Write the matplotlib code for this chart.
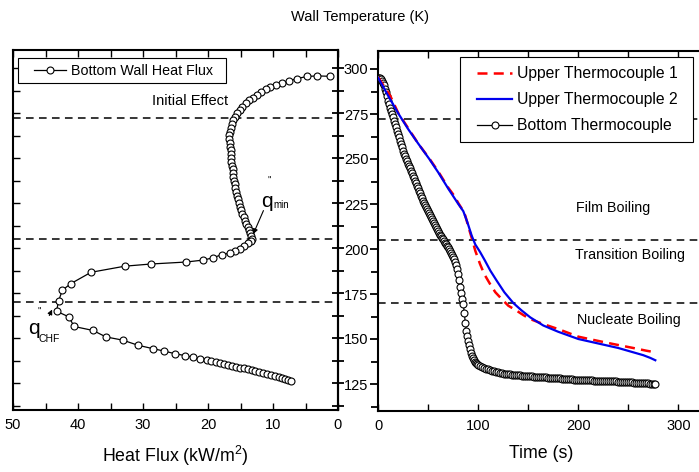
import matplotlib
matplotlib.use("Agg")
import matplotlib.pyplot as plt
from matplotlib.patches import Rectangle
from matplotlib.ticker import MultipleLocator

plt.rcParams['font.family'] = ['Liberation Sans', 'DejaVu Sans']
plt.rcParams['mathtext.fontset'] = 'custom'
plt.rcParams['mathtext.rm'] = 'Liberation Sans'

# left panel: bottom wall heat flux (kW/m2) against wall temperature (K)
flux_q = [1.3, 3.2, 4.8, 6.3, 7.6, 8.6, 9.5, 10.4, 11.1, 11.8,
          12.5, 13.1, 13.7, 14.2, 14.7, 15.1, 15.5, 15.8, 16.1, 16.3,
          16.5, 16.6, 16.7, 16.7, 16.6, 16.6, 16.5, 16.5, 16.4, 16.4,
          16.3, 16.2, 16.1, 16.1, 16.0, 15.9, 15.8, 15.7, 15.6, 15.4,
          15.3, 15.1, 14.9, 14.7, 14.5, 14.3, 14.1, 13.9, 13.7, 13.5,
          13.4, 13.3, 13.4, 13.8, 14.4, 15.1, 15.8, 16.6, 17.9, 19.2,
          20.7, 23.4, 28.8, 32.8, 38.0, 41.1, 42.4, 43.0, 43.3, 41.4,
          40.6, 37.7, 35.7, 33.1, 30.8, 28.5, 26.7, 25.1, 23.5, 22.3,
          21.2, 20.2, 19.5, 18.8, 18.1, 17.5, 16.9, 16.3, 15.7, 15.1,
          14.5, 13.9, 13.3, 12.7, 12.1, 11.5, 10.9, 10.3, 9.7, 9.1,
          8.6, 8.1, 7.7, 7.3]
flux_T = [295.4, 295.6, 295.3, 294.1, 292.8, 291.8, 290.7, 289.5, 288.2, 286.8,
          285.2, 283.6, 282.0, 280.3, 278.5, 276.7, 274.8, 272.9, 270.9, 268.9,
          266.8, 264.7, 262.6, 260.5, 258.4, 256.3, 254.2, 252.1, 250.0, 247.9,
          245.8, 243.7, 241.6, 239.5, 237.4, 235.3, 233.2, 231.1, 229.0, 227.0,
          225.0, 223.0, 221.0, 219.0, 217.1, 215.2, 213.4, 211.6, 209.9, 208.2,
          206.6, 205.2, 203.9, 202.8, 201.2, 199.4, 198.1, 197.2, 196.3, 194.6,
          193.3, 192.2, 191.1, 189.9, 186.5, 180.2, 176.6, 170.5, 164.9, 161.7,
          156.4, 154.2, 150.6, 148.8, 146.0, 144.1, 142.7, 141.3, 140.2, 139.3,
          138.5, 137.8, 137.2, 136.7, 136.1, 135.6, 135.1, 134.6, 134.1, 133.6,
          133.1, 132.6, 132.1, 131.6, 131.1, 130.6, 130.0, 129.4, 128.8, 128.2,
          127.6, 127.0, 126.4, 125.9]

# right panel: bottom thermocouple, sampled every 1 s up to 100 s, then every 2 s
bottom_t = list(range(0, 101)) + list(range(102, 277, 2)) + [277]
bottom_T = [295.0, 295.0, 294.8, 294.3, 293.5, 292.4, 291.0, 289.1, 287.0, 284.8,
            282.5, 280.4, 278.5, 276.7, 275.0, 273.1, 271.3, 269.4, 267.6, 265.7,
            263.9, 262.0, 260.2, 258.3, 256.5, 254.7, 253.0, 251.4, 250.0, 248.7,
            247.5, 246.2, 244.9, 243.5, 242.1, 240.7, 239.3, 237.9, 236.5, 235.1,
            233.8, 232.4, 231.0, 229.6, 228.2, 226.9, 225.6, 224.4, 223.2, 222.0,
            220.9, 219.8, 218.8, 217.8, 216.9, 215.8, 214.7, 213.5, 212.4, 211.3,
            210.2, 209.1, 208.0, 207.1, 206.2, 205.3, 204.4, 203.5, 202.6, 201.8,
            200.9, 200.0, 199.0, 198.0, 196.9, 195.8, 194.5, 193.0, 191.2, 188.8,
            186.1, 182.8, 178.8, 175.8, 172.5, 169.4, 164.5, 159.0, 154.6, 151.6,
            149.1, 146.6, 144.3, 142.4, 140.8, 139.5, 138.4, 137.5, 136.8, 136.1,
            135.5,
            135.0, 134.5, 134.0, 133.5, 133.1, 132.7, 132.3, 132.0, 131.7, 131.4,
            131.2, 131.0, 130.8, 130.7, 130.5, 130.4, 130.2, 130.1, 130.0, 129.9,
            129.8, 129.7, 129.6, 129.5, 129.4, 129.3, 129.2, 129.1, 129.0, 129.0,
            128.9, 128.8, 128.7, 128.7, 128.6, 128.6, 128.5, 128.4, 128.3, 128.2,
            128.1, 128.0, 128.0, 127.9, 127.8, 127.7, 127.6, 127.5, 127.4, 127.3,
            127.3, 127.2, 127.2, 127.1, 127.1, 127.0, 127.0, 126.9, 126.9, 126.8,
            126.8, 126.7, 126.7, 126.6, 126.6, 126.5, 126.5, 126.4, 126.4, 126.3,
            126.3, 126.2, 126.1, 126.0, 126.0, 125.9, 125.9, 125.8, 125.7, 125.6,
            125.6, 125.5, 125.4, 125.3, 125.3, 125.2, 125.2, 125.1,
            125.0]

# upper thermocouples
tc1_t = [0, 5, 8, 12, 20, 30, 40, 51, 60, 70, 76, 80, 84, 87, 90, 94, 97, 101.7, 106,
         111.7, 117, 123.4, 130, 138.4, 145, 151.7, 165, 180, 200, 215, 235, 255, 268, 277]
tc1_T = [295.5, 291.0, 288.5, 285.0, 275.5, 267.0, 258.5, 250.3, 243.0, 234.0, 229.5,
         225.5, 222.0, 218.5, 212.5, 205.0, 199.0, 191.7, 186.0, 180.6, 176.0, 172.2,
         168.5, 165.7, 163.3, 161.1, 158.3, 155.5, 151.3, 149.5, 147.2, 145.0, 143.5, 142.6]
tc2_t = [0, 5, 10, 20, 30, 40, 51, 60, 70, 80, 85, 89, 93.4, 97, 101.7, 106.7, 112,
         118.4, 126, 135, 143, 152, 165, 180, 200, 220, 240, 255, 265, 272, 277]
tc2_T = [295.0, 290.0, 285.0, 275.3, 266.5, 258.5, 250.0, 242.5, 233.5, 225.0, 221.0,
         215.0, 207.4, 202.5, 198.4, 193.5, 188.0, 182.4, 176.0, 170.0, 166.0, 162.0,
         157.5, 154.0, 150.0, 147.5, 145.0, 142.6, 141.0, 139.5, 138.2]

# boiling regime boundaries (K)
regime_T = [272, 205, 170]

fig = plt.figure(figsize=(6.99, 4.72), dpi=100)
axL = fig.add_axes([13 / 699, 62 / 472, 325 / 699, 360 / 472])
axR = fig.add_axes([378.3 / 699, 61 / 472, 325 / 699, 360 / 472])

dash = (0, (5, 3.5))
for ax in (axL, axR):
    for y in regime_T:
        ax.axhline(y, color='k', ls=dash, lw=1.1, zorder=1)
    for s in ax.spines.values():
        s.set_linewidth(1.5)
    ax.set_ylim(110, 310)
    ax.yaxis.set_major_locator(MultipleLocator(25))
    ax.yaxis.set_minor_locator(MultipleLocator(12.5))


def legend_box(ax, x0, y0, x1, y1):
    # plain square frame behind a frameless legend
    ax.add_patch(Rectangle((x0, y0), x1 - x0, y1 - y0, transform=ax.transAxes,
                           facecolor='white', edgecolor='k', lw=0.8, zorder=8))


# ---- left panel
axL.plot(flux_q, flux_T, '-o', color='k', lw=0.9, ms=5, mfc='white', mew=0.8,
         label='Bottom Wall Heat Flux', zorder=3)
axL.set_xlim(50, 0)
axL.xaxis.set_major_locator(MultipleLocator(10))
axL.xaxis.set_minor_locator(MultipleLocator(5))
axL.tick_params(axis='x', which='both', direction='in', top=True, bottom=True,
                length=5, width=1, labelsize=10.5, pad=6)
axL.tick_params(axis='y', which='both', direction='in', left=True, right=False,
                labelleft=False, length=5, width=1)
sec = axL.secondary_yaxis('right')
sec.yaxis.set_major_locator(MultipleLocator(25))
sec.yaxis.set_minor_locator(MultipleLocator(12.5))
sec.tick_params(which='both', direction='inout', length=9, width=1.3, labelright=False)
sec.spines['right'].set_linewidth(1.5)

axL.set_xlabel(r'Heat Flux (kW/m$^\mathregular{2}$)', fontsize=12.8)
axL.xaxis.set_label_coords(0.5, -0.095)
legend_box(axL, 0.0154, 0.908, 0.655, 0.978)
legL = axL.legend(loc='center left', bbox_to_anchor=(0.066, 0.943), borderaxespad=0,
                  borderpad=0, numpoints=1, handlelength=2.2, handletextpad=0.35,
                  fontsize=10.3, frameon=False)
legL.set_zorder(9)

axL.text(16.9, 281.8, 'Initial Effect', ha='right', va='center', fontsize=10.5)

axL.text(11.0, 225.9, 'q', ha='center', va='center', fontsize=15)
axL.text(10.6, 237.5, '"', ha='center', va='center', fontsize=7)
axL.text(8.7, 224.0, 'min', ha='center', va='center', fontsize=7)
axL.annotate('', xy=(13.2, 206.4), xytext=(11.3, 222.2),
             arrowprops=dict(arrowstyle='-|>', color='k', lw=0.8, mutation_scale=7))

axL.text(46.8, 155.5, 'q', ha='center', va='center', fontsize=15)
axL.text(46.0, 164.5, '"', ha='center', va='center', fontsize=7)
axL.text(44.5, 149.6, 'CHF', ha='center', va='center', fontsize=7.5)
axL.annotate('', xy=(43.8, 167.2), xytext=(44.6, 161.1),
             arrowprops=dict(arrowstyle='-|>', color='k', lw=0.8, mutation_scale=7))

# ---- right panel
axR.plot(tc1_t, tc1_T, color='red', ls=(0, (4, 2.5)), lw=1.8, label='Upper Thermocouple 1',
         zorder=5)
axR.plot(tc2_t, tc2_T, color='#0000ee', lw=1.6, label='Upper Thermocouple 2', zorder=6)
axR.plot(bottom_t, bottom_T, '-o', color='k', lw=0.9, ms=5, mfc='white', mew=0.8,
         label='Bottom Thermocouple', zorder=4)
axR.set_xlim(0, 325)
axR.xaxis.set_major_locator(MultipleLocator(100))
axR.xaxis.set_minor_locator(MultipleLocator(50))
axR.tick_params(axis='x', which='both', direction='in', top=True, bottom=True,
                length=5, width=1, labelsize=10.5, pad=6)
axR.tick_params(axis='y', which='major', direction='out', left=True, right=False,
                length=6, width=1.3, labelsize=10.5, pad=1)
axR.tick_params(axis='y', which='minor', direction='out', left=True, right=False,
                length=5, width=1.3)
axR.set_xlabel('Time (s)', fontsize=12.8)
axR.xaxis.set_label_coords(0.5, -0.095)
legend_box(axR, 0.2514, 0.747, 0.968, 0.983)
legR = axR.legend(loc='center left', bbox_to_anchor=(0.305, 0.865), borderaxespad=0,
                  borderpad=0, numpoints=1, handlelength=2.2, handletextpad=0.3,
                  fontsize=11.3, frameon=False, labelspacing=0.7)
legR.set_zorder(9)

axR.text(198, 223, 'Film Boiling', ha='left', va='center', fontsize=10.3)
axR.text(197, 196.8, 'Transition Boiling', ha='left', va='center', fontsize=10.3)
axR.text(199, 160.7, 'Nucleate Boiling', ha='left', va='center', fontsize=10.3)

fig.text(360 / 699, 1 - 17 / 472, 'Wall Temperature (K)', ha='center', va='center',
         fontsize=10.5)

fig.savefig('out.png', dpi=100)
